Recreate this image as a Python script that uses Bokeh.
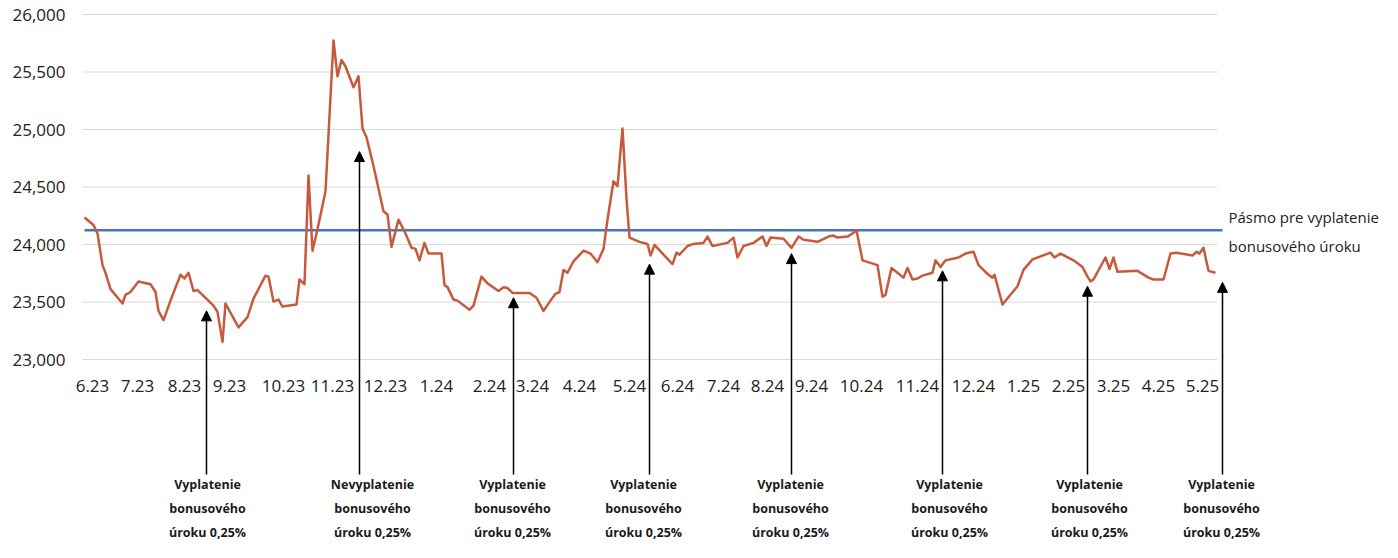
from bokeh.plotting import figure
from bokeh.models import FixedTicker, NumeralTickFormatter, Arrow, NormalHead, Range1d, ColumnDataSource
from bokeh.core.properties import value
from bokeh.embed import file_html
from bokeh.resources import INLINE

# ---------------- data ----------------
# horizontal time position of each observation and the observed value
t = [0, 9, 13, 18, 21, 26, 38, 41, 46, 54, 66, 71, 74, 79, 86, 96, 100, 104, 109, 113,
     119, 129, 133, 138, 141, 154, 163, 169, 181, 184, 189, 194, 198, 212, 215, 220, 224, 228, 233, 241,
     249, 253, 257, 261, 269, 274, 278, 282, 289, 299, 303, 307, 314, 321, 327, 331, 335, 340, 344, 357,
     360, 363, 369, 373, 385, 389, 397, 403, 414, 419, 423, 428, 445, 452, 459, 466, 471, 475, 479, 483,
     489, 499, 506, 513, 519, 523, 529, 533, 538, 542, 545, 555, 563, 566, 570, 579, 588, 592, 595, 603,
     609, 619, 623, 628, 643, 649, 653, 659, 669, 678, 682, 686, 699, 707, 714, 719, 733, 744, 749, 753,
     763, 768, 772, 778, 793, 798, 801, 807, 819, 823, 828, 833, 838, 848, 851, 856, 861, 874, 881, 889,
     894, 904, 908, 910, 918, 933, 939, 948, 966, 970, 976, 989, 998, 1003, 1006, 1009, 1021, 1025, 1029, 1033,
     1053, 1064, 1069, 1079, 1086, 1092, 1108, 1112, 1115, 1119, 1124, 1131]
val = [24234, 24170, 24096, 23821, 23754, 23612, 23487, 23562, 23587, 23679, 23654, 23587, 23423, 23342, 23512, 23737, 23704, 23754, 23596, 23604,
       23554, 23468, 23414, 23153, 23487, 23279, 23369, 23529, 23729, 23721, 23504, 23521, 23460, 23478, 23696, 23654, 24600, 23946, 24133, 24463,
       25774, 25462, 25605, 25548, 25368, 25462, 25009, 24933, 24683, 24289, 24261, 23979, 24216, 24096, 23971, 23962, 23862, 24014, 23921, 23921,
       23646, 23629, 23521, 23512, 23432, 23468, 23721, 23662, 23596, 23629, 23621, 23579, 23579, 23537, 23423, 23512, 23571, 23587, 23779, 23754,
       23854, 23946, 23921, 23846, 23962, 24216, 24550, 24508, 25009, 24399, 24060, 24023, 24005, 23904, 23996, 23912, 23829, 23929, 23912, 23987,
       24005, 24014, 24069, 23987, 24014, 24060, 23887, 23987, 24014, 24069, 23987, 24060, 24050, 23971, 24069, 24041, 24023, 24069, 24078, 24060,
       24069, 24096, 24124, 23862, 23821, 23546, 23562, 23796, 23712, 23796, 23696, 23704, 23729, 23754, 23862, 23804, 23862, 23887, 23921, 23937,
       23821, 23737, 23712, 23737, 23478, 23637, 23779, 23871, 23929, 23887, 23921, 23862, 23804, 23721, 23679, 23696, 23887, 23787, 23887, 23762,
       23771, 23712, 23696, 23696, 23921, 23929, 23904, 23937, 23921, 23971, 23771, 23754]

tick_t = [8, 53, 100, 145, 199, 248, 301, 352, 405, 448, 495, 545,
          593, 639, 683, 727, 777, 833, 889, 939, 984, 1029, 1074, 1118]
tick_labels = ["6.23", "7.23", "8.23", "9.23", "10.23", "11.23", "12.23", "1.24", "2.24", "3.24", "4.24", "5.24",
               "6.24", "7.24", "8.24", "9.24", "10.24", "11.24", "12.24", "1.25", "2.25", "3.25", "4.25", "5.25"]
y_ticks = [23000, 23500, 24000, 24500, 25000, 25500, 26000]

band_level = 24125
band_label = ["Pásmo pre vyplatenie", "bonusového úroku"]

ann_t = [122, 275, 429, 565, 707, 858, 1003, 1138]
ann_tip = [23423, 24808, 23537, 23829, 23921, 23771, 23637, 23671]
ann_text_t = [123, 288, 428, 559, 706, 865, 1005, 1137]
ann_line1 = ["Vyplatenie", "Nevyplatenie", "Vyplatenie", "Vyplatenie",
             "Vyplatenie", "Vyplatenie", "Vyplatenie", "Vyplatenie"]
ann_line2 = ["bonusového"] * 8
ann_line3 = ["úroku 0,25%"] * 8

# ---------------- layout ----------------
W, H = 1382, 542
X0 = -84
X1 = X0 + W
S = (y_ticks[-1] - y_ticks[0]) / 345.0      # value per pixel
Y1 = y_ticks[-1] + 14 * S
Y0 = Y1 - H * S

def yv(frame_py):
    return Y1 - frame_py * S

FONT = value("Open Sans")
TXT = "#222222"

p = figure(width=W, height=H, output_backend="svg", toolbar_location=None,
           x_range=Range1d(X0, X1), y_range=Range1d(Y0, Y1),
           min_border=0, min_border_left=0, min_border_right=0,
           min_border_top=0, min_border_bottom=0)
p.outline_line_color = None
p.background_fill_color = "white"
p.border_fill_color = "white"
p.xgrid.visible = False
p.ygrid.visible = False

# grid lines
p.segment(x0=-2, x1=1133, y0=y_ticks, y1=y_ticks, line_color="#d9d9d9", line_width=1)

# band line
p.line(x=[t[0], ann_t[-1]], y=[band_level, band_level], line_color="#4472C4", line_width=2.5)

# series
p.line(x=t, y=val, line_color="#C55A3C", line_width=2.5, line_join="round")

# axes
xa = p.xaxis[0]
xa.fixed_location = y_ticks[0]
xa.ticker = FixedTicker(ticks=tick_t)
xa.major_label_overrides = {k: v for k, v in zip(tick_t, tick_labels)}
xa.axis_line_color = None
xa.major_tick_line_color = None
xa.minor_tick_line_color = None
xa.major_tick_in = 0
xa.major_tick_out = 0
xa.major_label_standoff = 20
xa.major_label_text_font = "Open Sans"
xa.major_label_text_font_size = "17px"
xa.major_label_text_color = TXT

ya = p.yaxis[0]
ya.fixed_location = -2
ya.ticker = FixedTicker(ticks=y_ticks)
ya.formatter = NumeralTickFormatter(format="0,0")
ya.axis_line_color = None
ya.major_tick_line_color = None
ya.minor_tick_line_color = None
ya.major_tick_in = 0
ya.major_tick_out = 0
ya.major_label_standoff = 17
ya.major_label_text_font = "Open Sans"
ya.major_label_text_font_size = "17px"
ya.major_label_text_color = TXT

# band label
for txt, off in zip(band_label, [-13, 16]):
    p.text(x=[1144], y=[band_level], text=[txt], y_offset=off, text_align="left",
           text_baseline="middle", text_font=FONT, text_font_size="15px", text_color=TXT)

# arrows
base = yv(474)
src = ColumnDataSource(dict(xs=ann_t, ys=[base] * len(ann_t), xe=ann_t, ye=ann_tip))
p.add_layout(Arrow(end=NormalHead(size=10, fill_color="black", line_color="black", line_width=1),
                   x_start="xs", y_start="ys", x_end="xe", y_end="ye", source=src,
                   line_color="black", line_width=1.5))

# annotation texts
for lines, off in zip([ann_line1, ann_line2, ann_line3], [125, 149, 173]):
    p.text(x=ann_text_t, y=[y_ticks[0]] * len(ann_text_t), text=lines, y_offset=off,
           text_align="center", text_baseline="middle", text_font=FONT,
           text_font_style="bold", text_font_size="12.5px", text_color="#1a1a1a")

open("out.html", "w").write(file_html(p, INLINE))
